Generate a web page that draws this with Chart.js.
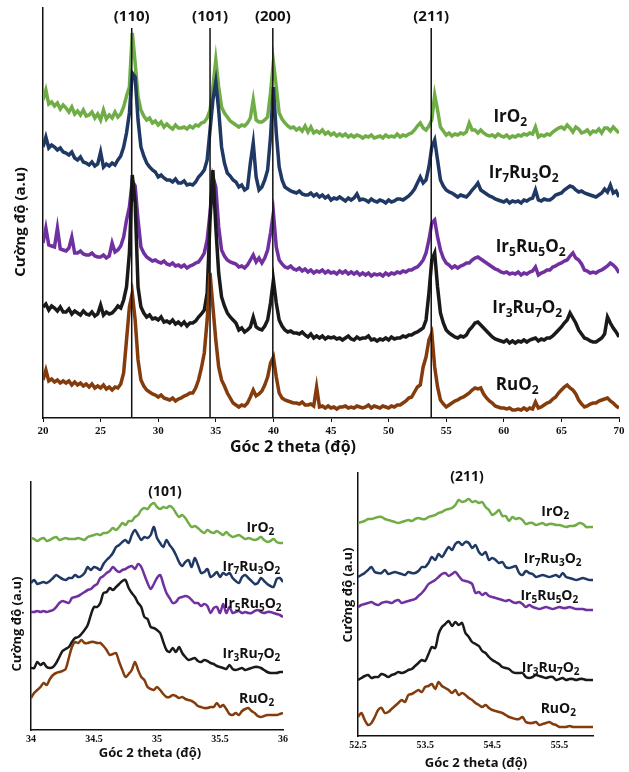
<!DOCTYPE html>
<html>
<head>
<meta charset="utf-8">
<script src="https://cdn.jsdelivr.net/npm/chart.js@4.4.0/dist/chart.umd.min.js"></script>
<style>
	html, body { margin: 0; padding: 0; background: #fff; }
	#wrap { position: relative; width: 629px; height: 772px; overflow: hidden; }
	.box { position: absolute; }
</style>
</head>
<body>
<div id="wrap">
	<div class="box" style="left:0;top:0"><canvas id="mainChart" width="629" height="460"></canvas></div>
	<div class="box" style="left:0;top:462px"><canvas id="zoom101" width="300" height="310"></canvas></div>
	<div class="box" style="left:310px;top:462px"><canvas id="zoom211" width="319" height="310"></canvas></div>
</div>
<script>
// sample names (digits become subscripts when drawn)
var samples = ['IrO2', 'Ir7Ru3O2', 'Ir5Ru5O2', 'Ir3Ru7O2', 'RuO2'];
var colors = ['#70AD47', '#203864', '#7030A0', '#1a1a1a', '#843C0C'];

// reflections marked on the full pattern
var peakTheta = [27.7, 34.5, 39.95, 53.7];
var peakNames = ['(110)', '(101)', '(200)', '(211)'];

// tick labels
var topTicks = [20, 25, 30, 35, 40, 45, 50, 55, 60, 65, 70];
var leftTicks = [34, 34.5, 35, 35.5, 36];
var rightTicks = [52.5, 53.5, 54.5, 55.5];

// full pattern, 2theta 20-70 (offset intensities, a.u.)
var thetaTop = [20,20.25,20.5,20.75,21,21.25,21.5,21.75,22,22.25,22.5,22.75,23,23.25,23.5,23.75,24,24.25,24.5,24.75,25,25.25,25.5,25.75,26,26.25,26.5,26.75,27,27.25,27.5,27.75,28,28.25,28.5,28.75,29,29.25,29.5,29.75,30,30.25,30.5,30.75,31,31.25,31.5,31.75,32,32.25,32.5,32.75,33,33.25,33.5,33.75,34,34.25,34.5,34.75,35,35.25,35.5,35.75,36,36.25,36.5,36.75,37,37.25,37.5,37.75,38,38.25,38.5,38.75,39,39.25,39.5,39.75,40,40.25,40.5,40.75,41,41.25,41.5,41.75,42,42.25,42.5,42.75,43,43.25,43.5,43.75,44,44.25,44.5,44.75,45,45.25,45.5,45.75,46,46.25,46.5,46.75,47,47.25,47.5,47.75,48,48.25,48.5,48.75,49,49.25,49.5,49.75,50,50.25,50.5,50.75,51,51.25,51.5,51.75,52,52.25,52.5,52.75,53,53.25,53.5,53.75,54,54.25,54.5,54.75,55,55.25,55.5,55.75,56,56.25,56.5,56.75,57,57.25,57.5,57.75,58,58.25,58.5,58.75,59,59.25,59.5,59.75,60,60.25,60.5,60.75,61,61.25,61.5,61.75,62,62.25,62.5,62.75,63,63.25,63.5,63.75,64,64.25,64.5,64.75,65,65.25,65.5,65.75,66,66.25,66.5,66.75,67,67.25,67.5,67.75,68,68.25,68.5,68.75,69,69.25,69.5,69.75,70];

var topIrO2 = [318,328,314,316, 312,315,309,313, 310,306,311,304, 307,303,308,302, 303,306,300,304, 298,308,299,303, 300,306,301,304, 311,322,331,385, 355,321,308,302, 298,300,295,297, 293,296,291,294, 291,289,293,290, 290,291,289,292, 290,293,292,295, 296,300,308,331, 358,331,311,305, 301,297,295,293, 291,293,292,295, 300,318,298,296, 296,298,301,325, 356,331,305,299, 295,292,290,291, 288,290,287,292, 286,291,285,287, 285,288,284,286, 283,285,282,284, 282,284,281,283, 281,283,282,280, 282,281,283,280, 281,282,280,283, 281,282,281,284, 281,283,282,284, 285,288,292,295, 290,288,292,298, 323,308,291,287, 283,285,282,284, 283,285,284,286, 295,288,288,285, 288,285,283,282, 283,281,284,282, 281,283,280,282, 281,283,282,284, 283,285,284,291, 281,283,282,284, 283,286,288,290, 291,289,293,290, 286,291,289,285, 286,288,284,287, 286,289,285,290, 290,287,291,288, 285];
var topIr7Ru3 = [271,281,270,273, 271,268,270,266, 265,263,266,260, 258,261,256,255, 253,256,252,254, 266,251,254,252, 255,253,258,262, 271,285,305,345, 341,298,271,262, 255,251,248,246, 241,243,240,238, 238,236,239,235, 235,237,233,234, 233,236,241,244, 248,258,288,318, 336,308,271,255, 245,242,238,236, 231,233,228,230, 255,275,241,228, 231,238,248,281, 331,285,251,238, 231,229,227,226, 225,227,224,223, 223,225,222,224, 221,223,220,222, 218,220,219,221, 219,217,220,218, 220,224,218,219, 218,216,219,217, 216,218,217,215, 218,216,217,219, 219,218,220,222, 225,229,235,241, 235,238,251,271, 278,258,238,232, 228,226,225,223, 221,223,222,221, 224,228,231,235, 228,226,224,222, 221,219,218,217, 216,218,215,217, 216,217,215,218, 217,219,220,228, 218,217,219,218, 218,220,223,224, 225,228,230,232, 231,228,226,227, 225,224,223,222, 221,223,225,229, 226,233,225,227, 221];
var topIr5Ru5 = [175,190,173,172, 171,190,169,168, 167,170,181,165, 165,167,164,163, 163,165,162,161, 161,163,160,162, 175,166,168,172, 181,198,211,237, 232,198,171,165, 161,159,157,158, 156,155,157,154, 153,155,152,153, 151,153,150,152, 153,155,156,160, 165,178,205,241, 231,191,168,162, 158,156,155,154, 151,152,150,153, 158,163,156,160, 155,160,168,185, 205,171,158,154, 151,150,152,149, 148,150,147,149, 146,148,145,147, 146,148,145,147, 145,146,144,147, 145,147,144,146, 144,146,143,145, 143,145,142,144, 143,144,142,145, 143,145,144,146, 145,147,146,148, 148,150,151,154, 158,165,178,195, 198,181,168,160, 155,153,150,152, 150,152,153,155, 155,158,160,161, 159,157,155,153, 151,149,148,146, 145,146,144,145, 144,146,143,145, 144,146,147,151, 143,145,146,148, 148,151,152,154, 155,157,158,162, 165,160,158,154, 148,147,145,146, 145,147,148,150, 152,155,153,150, 145];
var topIr3Ru7 = [111,114,108,112, 110,107,111,106, 106,109,104,107, 105,103,107,104, 103,106,102,104, 113,103,106,104, 105,108,112,110, 118,131,165,243, 215,131,111,105, 101,103,99,100, 98,101,96,97, 95,98,94,96, 93,96,92,95, 95,97,101,104, 108,125,198,248, 191,145,121,112, 105,101,98,95, 88,90,86,88, 91,101,91,89, 88,92,98,115, 138,115,98,92, 88,86,87,85, 85,84,86,83, 81,84,80,82, 80,82,79,81, 80,81,79,80, 78,80,82,79, 78,81,79,80, 80,82,78,79, 77,79,78,80, 78,81,79,80, 80,82,81,83, 83,85,86,88, 90,98,125,158, 165,131,105,95, 88,85,83,81, 80,82,81,83, 88,91,95,96, 93,90,87,84, 81,79,78,77, 76,78,75,77, 75,77,76,78, 76,78,79,80, 77,79,78,80, 80,82,85,88, 91,95,98,105, 100,95,88,84, 80,79,77,76, 76,78,80,84, 101,95,90,86, 81];
var topRuO2 = [38,48,37,39, 36,38,35,37, 35,37,33,36, 33,35,32,34, 31,34,30,32, 30,33,29,31, 28,31,30,34, 45,78,111,125, 98,58,38,32, 28,26,24,23, 21,23,20,19, 18,20,17,19, 20,22,23,25, 25,30,38,50, 65,98,145,111, 78,51,38,32, 25,20,15,13, 11,13,12,15, 21,28,22,24, 27,33,41,55, 61,41,25,20, 18,17,16,15, 15,14,16,13, 13,14,12,31, 11,12,10,12, 10,11,9,11, 11,12,10,11, 10,12,11,10, 11,13,10,12, 11,10,12,11, 10,12,11,13, 13,15,17,20, 21,26,31,33, 51,61,78,85, 51,31,18,14, 11,13,15,17, 18,20,21,23, 25,28,30,29, 30,24,20,17, 15,12,11,10, 10,9,10,8, 8,9,8,10, 8,10,9,16, 10,11,13,15, 16,19,21,25, 28,31,33,30, 28,24,18,14, 11,12,14,15, 15,17,18,19, 20,17,15,12, 10];

// zoom on (101), 2theta 34-36
var thetaLeft = [34,34.025,34.05,34.075,34.1,34.125,34.15,34.175,34.2,34.225,34.25,34.275,34.3,34.325,34.35,34.375,34.4,34.425,34.45,34.475,34.5,34.525,34.55,34.575,34.6,34.625,34.65,34.675,34.7,34.725,34.75,34.775,34.8,34.825,34.85,34.875,34.9,34.925,34.95,34.975,35,35.025,35.05,35.075,35.1,35.125,35.15,35.175,35.2,35.225,35.25,35.275,35.3,35.325,35.35,35.375,35.4,35.425,35.45,35.475,35.5,35.525,35.55,35.575,35.6,35.625,35.65,35.675,35.7,35.725,35.75,35.775,35.8,35.825,35.85,35.875,35.9,35.925,35.95,35.975,36];
var leftIrO2 = [192,191,189,191,192,189,190,192,193,190,191,192,191,191,191,192,191,190,193,194,195,196,195,197,197,199,202,200,203,207,205,209,209,213,215,220,222,221,225,227,223,221,223,222,224,222,217,213,215,212,207,203,204,202,199,197,200,198,197,199,197,195,198,195,193,194,195,193,191,192,191,190,191,193,190,188,189,191,188,187,187];
var leftIr7Ru3 = [147,150,146,147,148,147,149,152,155,153,151,150,152,152,155,153,154,157,163,160,163,162,160,166,170,173,177,183,185,188,190,187,195,200,195,190,193,192,195,203,192,187,183,190,185,181,175,168,164,168,170,163,172,165,157,158,161,153,155,158,153,157,155,157,152,149,147,153,155,152,149,146,147,152,149,146,144,143,151,152,148];
var leftIr5Ru5 = [118,118,119,118,119,118,119,120,123,127,129,128,127,132,133,134,136,138,140,141,144,146,152,154,157,159,163,160,158,160,161,163,164,161,166,163,155,147,141,146,152,155,146,137,132,127,128,132,133,134,133,130,127,127,124,126,124,117,122,123,117,126,117,123,117,118,119,117,118,117,117,119,120,118,117,118,118,117,116,115,113];
var leftIr3Ru7 = [62,62,68,65,67,63,62,63,67,73,79,81,83,88,92,93,96,100,105,115,123,123,127,137,138,142,140,143,146,149,150,142,137,133,127,123,113,111,103,102,100,97,88,80,78,82,78,83,77,73,70,71,72,69,68,70,69,67,66,64,63,62,61,65,61,60,61,62,60,61,62,63,63,62,60,58,57,57,57,58,58];
var leftRuO2 = [32,37,40,43,47,45,51,55,57,58,59,61,72,83,88,87,90,87,87,88,88,87,87,84,80,75,76,77,68,60,53,56,60,68,60,53,50,43,41,40,43,40,36,33,33,35,34,32,33,31,30,29,27,24,23,22,22,23,23,27,23,25,21,16,15,17,15,19,21,22,19,17,14,13,14,15,15,15,15,16,17];

// zoom on (211), 2theta 52.5-56
var thetaRight = [52.5,52.55,52.6,52.65,52.7,52.75,52.8,52.85,52.9,52.95,53,53.05,53.1,53.15,53.2,53.25,53.3,53.35,53.4,53.45,53.5,53.55,53.6,53.65,53.7,53.75,53.8,53.85,53.9,53.95,54,54.05,54.1,54.15,54.2,54.25,54.3,54.35,54.4,54.45,54.5,54.55,54.6,54.65,54.7,54.75,54.8,54.85,54.9,54.95,55,55.05,55.1,55.15,55.2,55.25,55.3,55.35,55.4,55.45,55.5,55.55,55.6,55.65,55.7,55.75,55.8,55.85,55.9,55.95,56];
var rightIrO2 = [213,214,215,217,217,218,219,219,217,216,215,214,213,214,215,216,215,217,218,217,217,219,220,221,223,224,226,227,228,231,236,234,235,237,234,235,233,234,229,226,221,223,226,220,220,215,219,217,218,216,212,213,213,211,212,213,211,212,212,211,211,210,209,210,210,211,213,212,209,209,209];
var rightIr7Ru3 = [159,161,163,166,169,164,163,163,166,162,163,164,163,162,161,164,163,163,165,169,169,173,179,176,182,179,184,189,186,192,194,191,194,193,188,191,184,181,184,176,178,176,173,174,169,168,169,170,163,161,165,163,162,159,160,161,160,159,160,161,159,163,159,158,157,156,157,158,157,156,156];
var rightIr5Ru5 = [129,131,132,133,134,132,131,133,134,134,133,135,136,133,134,135,136,137,140,143,147,152,154,156,159,162,163,160,162,164,160,156,155,154,152,143,144,141,143,140,139,138,137,136,135,136,134,133,134,132,129,131,129,128,127,128,129,128,127,128,129,128,128,129,128,127,127,127,126,126,126];
var rightIr3Ru7 = [56,58,60,61,58,59,59,62,61,59,61,62,64,63,64,66,67,70,73,76,75,82,89,88,102,109,112,115,110,114,111,113,103,99,94,92,90,85,83,79,76,74,72,69,68,67,64,63,63,63,59,58,59,61,60,59,58,59,59,56,57,58,56,57,57,56,57,57,56,56,56];
var rightRuO2 = [19,23,16,11,13,19,26,28,23,24,27,30,33,36,34,41,42,44,46,44,49,50,52,47,54,50,48,46,43,46,41,43,41,38,36,33,31,29,31,28,26,25,24,23,21,19,18,17,17,19,14,13,13,14,11,12,13,14,12,11,9,9,9,10,9,9,9,9,9,9,9];

var uiFont = '"Open Sans", "DejaVu Sans", sans-serif';
var tickFont = '"Liberation Serif", "DejaVu Serif", serif';

function drawFormula(ctx, text, x, y, size) {
	var parts = text.match(/[A-Za-z]+|\d+/g);
	var cx = x;
	parts.forEach(function(p) {
		var sub = /\d/.test(p);
		ctx.font = 'bold ' + (sub ? Math.round(size * 0.7) : size) + 'px ' + uiFont;
		ctx.fillText(p, cx, sub ? y + size * 0.3 : y);
		cx += ctx.measureText(p).width;
	});
}

// draws reference lines, sample names and axis titles
var textPlugin = {
	id: 'texts',
	afterDatasetsDraw: function(chart, args, opts) {
		var ctx = chart.ctx, xs = chart.scales.x, ys = chart.scales.y, area = chart.chartArea;
		ctx.save();
		ctx.fillStyle = '#111';
		ctx.textBaseline = 'middle';
		(opts.peaks || []).forEach(function(t, i) {
			var px = xs.getPixelForValue(t);
			ctx.strokeStyle = '#111';
			ctx.lineWidth = 1.5;
			ctx.beginPath();
			ctx.moveTo(px, area.top + opts.lineTop);
			ctx.lineTo(px, area.bottom);
			ctx.stroke();
			ctx.font = 'bold 15px ' + uiFont;
			ctx.textAlign = 'center';
			ctx.fillText(opts.peakNames[i], px, area.top + opts.lineTop - 11);
		});
		ctx.textAlign = 'left';
		(opts.anchors || []).forEach(function(a, i) {
			drawFormula(ctx, samples[i], xs.getPixelForValue(a[0]), ys.getPixelForValue(a[1]), opts.nameSize);
		});
		(opts.texts || []).forEach(function(t) {
			ctx.save();
			ctx.font = 'bold ' + t.size + 'px ' + uiFont;
			ctx.textAlign = 'center';
			ctx.translate(t.x, t.y);
			if (t.rotate) ctx.rotate(-Math.PI / 2);
			ctx.fillText(t.text, 0, 0);
			ctx.restore();
		});
		ctx.restore();
	}
};

function makeDatasets(series, width, tension) {
	return series.map(function(d, i) {
		return {
			label: samples[i],
			data: d,
			borderColor: colors[i],
			borderWidth: width,
			pointRadius: 0,
			tension: tension,
			order: series.length - i
		};
	});
}

function makeConfig(o) {
	return {
		type: 'line',
		data: { labels: o.theta, datasets: makeDatasets(o.series, o.width, o.tension) },
		options: {
			responsive: false,
			animation: false,
			layout: { padding: o.padding },
			plugins: { legend: { display: false }, tooltip: { enabled: false }, texts: o.texts },
			scales: {
				x: {
					type: 'linear', min: o.min, max: o.max,
					afterBuildTicks: function(s) { s.ticks = o.ticks.map(function(v) { return { value: v }; }); },
					afterFit: function(s) { s.height = o.xHeight; },
					border: { color: '#111', width: 1.5 },
					grid: { display: o.tickLen > 0, drawOnChartArea: false, tickLength: o.tickLen, color: '#111' },
					ticks: {
						autoSkip: false, maxRotation: 0, padding: 3, color: '#111',
						font: { family: tickFont, size: o.tickSize, weight: 'bold' },
						callback: function(v) { return String(v); }
					}
				},
				y: {
					min: 0, max: o.yMax,
					afterFit: function(s) { s.width = o.yWidth; },
					border: { color: '#111', width: 1.5 },
					grid: { display: false },
					ticks: { display: false }
				}
			}
		},
		plugins: [textPlugin]
	};
}

window.onload = function() {
	new Chart(document.getElementById('mainChart').getContext('2d'), makeConfig({
		theta: thetaTop,
		series: [topIrO2, topIr7Ru3, topIr5Ru5, topIr3Ru7, topRuO2],
		width: 3.5, tension: 0,
		min: 20, max: 70, ticks: topTicks, yMax: 410,
		padding: { left: 0, right: 10, top: 8, bottom: 0 },
		xHeight: 42, yWidth: 43, tickLen: 4, tickSize: 11,
		texts: {
			peaks: peakTheta, peakNames: peakNames, lineTop: 20,
			anchors: [[59.1, 301], [58.7, 245], [59.3, 171], [59.0, 110], [59.3, 33]],
			nameSize: 17,
			texts: [
				{ text: 'Góc 2 theta (độ)', x: 293, y: 447, size: 16 },
				{ text: 'Cường độ (a.u)', x: 21, y: 222, size: 15, rotate: true }
			]
		}
	}));

	new Chart(document.getElementById('zoom101').getContext('2d'), makeConfig({
		theta: thetaLeft,
		series: [leftIrO2, leftIr7Ru3, leftIr5Ru5, leftIr3Ru7, leftRuO2],
		width: 2.5, tension: 0.3,
		min: 34, max: 36, ticks: leftTicks, yMax: 248,
		padding: { left: 0, right: 17, top: 20, bottom: 0 },
		xHeight: 42, yWidth: 31, tickLen: 0, tickSize: 10,
		texts: {
			anchors: [[35.71, 202], [35.52, 163], [35.53, 126], [35.52, 76], [35.65, 31]],
			nameSize: 14,
			texts: [
				{ text: '(101)', x: 165, y: 30, size: 14 },
				{ text: 'Góc 2 theta (độ)', x: 150, y: 291, size: 13 },
				{ text: 'Cường độ (a.u)', x: 17, y: 162, size: 13, rotate: true }
			]
		}
	}));

	new Chart(document.getElementById('zoom211').getContext('2d'), makeConfig({
		theta: thetaRight,
		series: [rightIrO2, rightIr7Ru3, rightIr5Ru5, rightIr3Ru7, rightRuO2],
		width: 2.5, tension: 0.3,
		min: 52.5, max: 56, ticks: rightTicks, yMax: 263,
		padding: { left: 0, right: 36, top: 11, bottom: 0 },
		xHeight: 36, yWidth: 48, tickLen: 0, tickSize: 10,
		texts: {
			anchors: [[55.23, 224], [54.97, 177], [54.92, 140], [54.94, 68], [55.22, 27]],
			nameSize: 14,
			texts: [
				{ text: '(211)', x: 157, y: 15, size: 14 },
				{ text: 'Góc 2 theta (độ)', x: 166, y: 301, size: 13 },
				{ text: 'Cường độ (a.u)', x: 38, y: 133, size: 13, rotate: true }
			]
		}
	}));
};
</script>
</body>
</html>
